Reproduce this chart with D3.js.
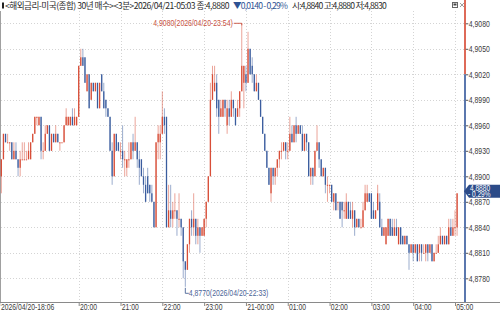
<!DOCTYPE html>
<html><head><meta charset="utf-8">
<script src="https://cdn.jsdelivr.net/npm/d3@7/dist/d3.min.js"></script>
<style>html,body{margin:0;padding:0;background:#fff;overflow:hidden}</style>
</head><body><svg id="c" width="500" height="314"></svg>
<script>
// ---- data (3-minute bars, 2026/04/20 18:06 -> 2026/04/21 05:03) ----
const startTime = "2026-04-20T18:06:00";
const barMinutes = 3;
const opens = [
4.894,4.890,4.892,4.895,4.894,4.894,4.894,4.892,4.893,4.892,
4.891,4.892,4.892,4.892,4.892,4.892,4.894,4.895,4.897,4.896,
4.897,4.893,4.893,4.895,4.896,4.893,4.895,4.894,4.895,4.894,
4.894,4.894,4.896,4.896,4.896,4.897,4.896,4.896,4.897,4.903,
4.904,4.904,4.900,4.902,4.899,4.901,4.900,4.901,4.898,4.902,
4.900,4.899,4.898,4.897,4.893,4.890,4.895,4.894,4.893,4.893,
4.892,4.891,4.892,4.892,4.894,4.893,4.894,4.892,4.892,4.890,
4.889,4.890,4.889,4.888,4.887,4.884,4.894,4.894,4.895,4.897,
4.897,4.884,4.886,4.885,4.886,4.886,4.885,4.885,4.884,4.880,
4.879,4.882,4.885,4.884,4.885,4.883,4.884,4.883,4.883,4.885,
4.887,4.890,4.899,4.900,4.901,4.899,4.897,4.897,4.899,4.896,
4.898,4.897,4.899,4.898,4.897,4.898,4.900,4.901,4.902,4.901,
4.905,4.903,4.902,4.900,4.901,4.899,4.897,4.895,4.893,4.891,
4.888,4.891,4.890,4.891,4.892,4.893,4.893,4.894,4.893,4.893,
4.895,4.894,4.896,4.895,4.896,4.895,4.893,4.895,4.894,4.890,
4.891,4.890,4.893,4.894,4.892,4.890,4.891,4.889,4.889,4.889,
4.887,4.888,4.887,4.887,4.887,4.886,4.885,4.887,4.886,4.885,
4.886,4.884,4.885,4.884,4.884,4.886,4.887,4.888,4.888,4.886,
4.885,4.886,4.887,4.884,4.883,4.882,4.883,4.885,4.884,4.883,
4.884,4.882,4.884,4.883,4.882,4.883,4.882,4.881,4.882,4.881,
4.882,4.881,4.882,4.881,4.881,4.882,4.881,4.882,4.880,4.881,
4.881,4.882,4.883,4.882,4.883,4.882,4.884,4.883,4.884,4.884];
const highs = [
4.894,4.892,4.895,4.895,4.895,4.894,4.894,4.894,4.894,4.892,
4.893,4.894,4.894,4.893,4.894,4.894,4.895,4.897,4.897,4.897,
4.897,4.894,4.896,4.896,4.896,4.895,4.895,4.896,4.895,4.894,
4.894,4.896,4.898,4.897,4.897,4.898,4.898,4.897,4.903,4.905,
4.905,4.904,4.902,4.902,4.901,4.901,4.901,4.901,4.901,4.902,
4.901,4.899,4.898,4.897,4.894,4.895,4.895,4.894,4.894,4.896,
4.893,4.892,4.894,4.894,4.895,4.897,4.894,4.893,4.892,4.891,
4.890,4.891,4.889,4.889,4.887,4.894,4.896,4.896,4.900,4.898,
4.897,4.889,4.889,4.887,4.888,4.886,4.888,4.885,4.884,4.880,
4.882,4.885,4.886,4.888,4.885,4.885,4.884,4.884,4.885,4.887,
4.890,4.901,4.903,4.903,4.902,4.899,4.899,4.899,4.899,4.899,
4.899,4.900,4.899,4.898,4.899,4.900,4.908,4.903,4.903,4.907,
4.905,4.904,4.902,4.902,4.901,4.899,4.897,4.895,4.893,4.891,
4.891,4.891,4.891,4.892,4.893,4.894,4.894,4.894,4.894,4.897,
4.896,4.896,4.897,4.896,4.896,4.896,4.895,4.895,4.894,4.891,
4.891,4.893,4.896,4.894,4.892,4.891,4.891,4.890,4.889,4.889,
4.888,4.888,4.887,4.887,4.887,4.887,4.888,4.887,4.887,4.887,
4.886,4.885,4.885,4.885,4.887,4.889,4.889,4.888,4.888,4.887,
4.886,4.889,4.888,4.885,4.884,4.884,4.885,4.885,4.885,4.885,
4.885,4.884,4.884,4.883,4.883,4.883,4.882,4.882,4.882,4.882,
4.882,4.882,4.882,4.882,4.882,4.882,4.882,4.882,4.881,4.882,
4.883,4.884,4.883,4.883,4.883,4.885,4.885,4.885,4.886,4.888];
const lows = [
4.892,4.888,4.892,4.894,4.894,4.893,4.892,4.892,4.892,4.890,
4.890,4.892,4.892,4.892,4.892,4.892,4.894,4.895,4.896,4.896,
4.892,4.892,4.893,4.895,4.893,4.893,4.894,4.894,4.894,4.893,
4.894,4.894,4.896,4.896,4.896,4.896,4.896,4.896,4.897,4.903,
4.903,4.901,4.900,4.898,4.899,4.900,4.900,4.898,4.898,4.900,
4.898,4.897,4.897,4.893,4.889,4.890,4.893,4.893,4.892,4.891,
4.890,4.890,4.891,4.892,4.892,4.893,4.891,4.889,4.890,4.888,
4.887,4.888,4.887,4.887,4.884,4.884,4.892,4.892,4.895,4.895,
4.884,4.884,4.884,4.884,4.885,4.883,4.884,4.883,4.878,4.877,
4.879,4.881,4.883,4.883,4.882,4.882,4.881,4.883,4.883,4.884,
4.887,4.890,4.899,4.900,4.897,4.895,4.897,4.897,4.897,4.895,
4.896,4.897,4.897,4.896,4.897,4.897,4.900,4.898,4.900,4.901,
4.902,4.901,4.900,4.900,4.899,4.897,4.895,4.893,4.891,4.889,
4.887,4.889,4.889,4.890,4.891,4.892,4.893,4.892,4.892,4.893,
4.894,4.894,4.894,4.895,4.895,4.893,4.893,4.893,4.890,4.889,
4.889,4.890,4.893,4.891,4.890,4.890,4.888,4.887,4.888,4.887,
4.886,4.886,4.886,4.885,4.884,4.885,4.885,4.885,4.885,4.884,
4.883,4.884,4.884,4.884,4.884,4.886,4.887,4.887,4.885,4.885,
4.885,4.886,4.884,4.883,4.883,4.882,4.883,4.883,4.883,4.883,
4.883,4.882,4.882,4.882,4.882,4.882,4.879,4.881,4.880,4.881,
4.880,4.880,4.880,4.881,4.880,4.880,4.881,4.880,4.880,4.881,
4.881,4.882,4.882,4.882,4.882,4.882,4.883,4.883,4.883,4.883];
const closes = [
4.892,4.892,4.895,4.894,4.894,4.894,4.892,4.893,4.892,4.891,
4.892,4.892,4.892,4.892,4.893,4.894,4.895,4.897,4.897,4.897,
4.893,4.893,4.895,4.896,4.893,4.895,4.894,4.895,4.894,4.894,
4.894,4.896,4.897,4.897,4.897,4.896,4.897,4.897,4.903,4.904,
4.903,4.901,4.902,4.898,4.901,4.900,4.901,4.898,4.901,4.900,
4.898,4.898,4.897,4.893,4.890,4.895,4.893,4.893,4.893,4.892,
4.892,4.892,4.892,4.894,4.893,4.894,4.892,4.891,4.890,4.889,
4.887,4.888,4.888,4.887,4.884,4.894,4.895,4.895,4.897,4.896,
4.884,4.886,4.885,4.886,4.886,4.885,4.885,4.884,4.880,4.879,
4.882,4.885,4.884,4.885,4.883,4.884,4.883,4.884,4.885,4.887,
4.890,4.899,4.902,4.901,4.898,4.897,4.898,4.899,4.898,4.898,
4.897,4.899,4.898,4.896,4.898,4.900,4.903,4.903,4.901,4.905,
4.902,4.902,4.900,4.901,4.899,4.897,4.895,4.893,4.891,4.889,
4.891,4.890,4.891,4.892,4.893,4.893,4.894,4.893,4.893,4.895,
4.894,4.896,4.895,4.896,4.895,4.893,4.895,4.894,4.890,4.891,
4.890,4.893,4.894,4.892,4.890,4.891,4.889,4.889,4.889,4.887,
4.888,4.886,4.887,4.885,4.886,4.886,4.887,4.885,4.885,4.886,
4.884,4.885,4.884,4.884,4.886,4.888,4.888,4.887,4.885,4.885,
4.886,4.888,4.884,4.883,4.884,4.884,4.885,4.883,4.883,4.884,
4.883,4.884,4.882,4.882,4.883,4.882,4.881,4.882,4.881,4.882,
4.880,4.882,4.881,4.881,4.882,4.881,4.882,4.880,4.881,4.881,
4.882,4.883,4.882,4.883,4.882,4.884,4.883,4.884,4.884,4.888];
const prevClose = 4.902;
const yTicks = [4.908,4.905,4.902,4.899,4.896,4.893,4.890,4.887,4.884,4.881,4.878];
const xTickTimes = ["2026-04-20T18:06:00","2026-04-20T20:00:00","2026-04-20T21:00:00","2026-04-20T22:00:00",
  "2026-04-20T23:00:00","2026-04-21T00:00:00","2026-04-21T01:00:00","2026-04-21T02:00:00",
  "2026-04-21T03:00:00","2026-04-21T04:00:00","2026-04-21T05:00:00"];
const xTickLabels = ["2026/04/20-18:06","20:00","21:00","22:00","23:00","21-00:00","01:00","02:00","03:00","04:00","05:00"];
const headerMain = "<해외금리-미국(종합) 30년 매수><3분>2026/04/21-05:03 종:4,8880";
const headerChange = "▼0,0140 - 0,29%";
const headerOHL = "시:4,8840 고:4,8880 저:4,8830";
const highNote = "4,9080(2026/04/20-23:54)";
const lowNote = "4,8770(2026/04/20-22:33)";
const tagPrice = "4,8880";
const tagPct = "- 0,29%";

// ---- drawing ----
const RED = "#d6452f", BLUE = "#32569a", GRID = "#d4d4d4";
const svg = d3.select("#c");
svg.append("rect").attr("width",500).attr("height",314).attr("fill","#fff");
const plotT = 11, plotB = 302, axisX = 465;
const parse = d3.isoParse;
const t0 = parse(startTime);
const times = opens.map((_, i) => d3.timeMinute.offset(t0, i * barMinutes));
const x = d3.scaleTime()
  .domain([parse("2026-04-20T20:00:00"), parse("2026-04-21T05:00:00")])
  .range([78.7, 455]);
const y = d3.scaleLinear().domain([4.878, 4.908]).range([278.3, 23.3]);
const fmt = v => d3.format(".4f")(v).replace(".", ",");
const FONT = "'Liberation Sans', Arial, sans-serif";

function squeeze(sel, k) {
  sel.each(function(){ const w = this.getComputedTextLength(); d3.select(this).attr("textLength", w * k).attr("lengthAdjust","spacingAndGlyphs"); });
}
// fit a text into a target width by tightening letter spacing (keeps real bbox)
function fitWidth(sel, target) {
  sel.each(function(){
    const w = this.getComputedTextLength(), n = this.textContent.length;
    d3.select(this).attr("letter-spacing", ((target - w) / n).toFixed(3));
  });
}

// grid
svg.append("g").selectAll("line").data(yTicks).join("line")
  .attr("x1", 1).attr("x2", axisX).attr("y1", d => Math.round(y(d)) + 0.5).attr("y2", d => Math.round(y(d)) + 0.5)
  .attr("stroke", GRID).attr("stroke-dasharray", "1,2");
svg.append("g").selectAll("line").data(xTickTimes.slice(1)).join("line")
  .attr("x1", d => Math.round(x(parse(d))) + 0.5).attr("x2", d => Math.round(x(parse(d))) + 0.5)
  .attr("y1", plotT).attr("y2", plotB)
  .attr("stroke", GRID).attr("stroke-dasharray", "1,2");

// left frame
svg.append("line").attr("x1",0.5).attr("x2",0.5).attr("y1",plotT).attr("y2",plotB).attr("stroke","#a0a0a0");

// candles
const bars = svg.append("g");
const colorOf = i => closes[i] > opens[i] ? RED : closes[i] < opens[i] ? BLUE : (i > 0 && closes[i] < closes[i-1] ? BLUE : RED);
bars.selectAll("line").data(opens).join("line")
  .attr("x1", (d,i) => x(times[i])).attr("x2", (d,i) => x(times[i]))
  .attr("y1", (d,i) => y(highs[i])).attr("y2", (d,i) => y(lows[i]))
  .attr("stroke", (d,i) => colorOf(i)).attr("stroke-width", 0.9).attr("stroke-opacity", 0.55);
bars.selectAll("rect").data(opens).join("rect")
  .attr("x", (d,i) => x(times[i]) - 0.65).attr("width", 1.3)
  .attr("y", (d,i) => y(Math.max(opens[i], closes[i])))
  .attr("height", (d,i) => Math.max(1, Math.abs(y(opens[i]) - y(closes[i]))))
  .attr("fill", (d,i) => colorOf(i)).attr("fill-opacity", 0.92);

// x axis
svg.append("line").attr("x1",0).attr("x2",500).attr("y1",plotB+0.5).attr("y2",plotB+0.5).attr("stroke","#8a8a8a");
const xAxis = d3.axisBottom(x).tickValues(xTickTimes.map(parse)).tickSize(4).tickPadding(0)
  .tickFormat((d,i) => xTickLabels[i]);
const gx = svg.append("g").attr("transform", `translate(0,${plotB})`).call(xAxis);
gx.select(".domain").remove();
gx.selectAll(".tick line").attr("stroke","#8a8a8a");
gx.selectAll(".tick text").attr("text-anchor","start").attr("dx", 0.8).attr("y", 1.5).attr("dy","0.71em")
  .attr("font-family", FONT).attr("font-size", 8.6).attr("fill", "#3a3a3a").call(squeeze, 0.79);
gx.selectAll(".tick").filter((d,i) => i === 0).select("text").attr("dx", 1.2);

// right axis line (red above previous close, blue below)
svg.append("line").attr("x1",axisX).attr("x2",axisX).attr("y1",0).attr("y2",y(prevClose)).attr("stroke",RED).attr("stroke-width",1.6);
svg.append("line").attr("x1",axisX).attr("x2",axisX).attr("y1",y(prevClose)).attr("y2",plotB).attr("stroke",BLUE).attr("stroke-width",1.6);
const yAxis = d3.axisRight(y).tickValues(yTicks).tickSize(2.5).tickPadding(0.5).tickFormat(fmt);
const gy = svg.append("g").attr("transform", `translate(${axisX+0.8},0)`).call(yAxis);
gy.select(".domain").remove();
gy.selectAll(".tick line").attr("stroke","#555");
gy.selectAll(".tick text").attr("font-family", FONT).attr("font-size", 8.6).attr("fill","#3a3a3a").call(squeeze, 0.8);

// last price tag (covers the neighbouring tick label, as in the original)
const ty = y(closes[closes.length-1]) - 2;
svg.append("path").attr("d", `M${axisX-1},${ty} L${axisX+4},${ty-6.5} L500,${ty-6.5} L500,${ty+6.5} L${axisX+4},${ty+6.5} Z`).attr("fill", "#2c4b88");
svg.append("text").attr("x", 470).attr("y", ty - 0.6).text(tagPrice)
  .attr("font-family", FONT).attr("font-size", 8.2).attr("fill","#fff").call(squeeze, 0.8);
svg.append("text").attr("x", 468).attr("y", ty + 5.9).text(tagPct)
  .attr("font-family", FONT).attr("font-size", 8.2).attr("fill","#fff").call(squeeze, 0.8);

// high / low annotations
const iHi = d3.maxIndex(highs), iLo = d3.minIndex(lows);
const xHi = x(times[iHi]), yHi = y(highs[iHi]);
svg.append("path").attr("d", `M${xHi-8},${yHi} L${xHi},${yHi} L${xHi},${yHi+2}`).attr("fill","none").attr("stroke","#c8503e").attr("stroke-width",0.9);
svg.append("text").attr("x", xHi - 9).attr("y", yHi + 3).attr("text-anchor","end").text(highNote)
  .attr("font-family", FONT).attr("font-size", 8.6).attr("fill","#c8503e").call(squeeze, 0.8);
const xLo = x(times[iLo]), yLo = y(lows[iLo]);
svg.append("path").attr("d", `M${xLo},${yLo+1} L${xLo},${yLo+6.5} L${xLo+3.5},${yLo+6.5}`).attr("fill","none").attr("stroke","#4a6496").attr("stroke-width",0.9);
svg.append("text").attr("x", xLo + 3.5).attr("y", yLo + 9.5).text(lowNote)
  .attr("font-family", FONT).attr("font-size", 8.6).attr("fill","#4a6496").call(squeeze, 0.8);

// header
svg.append("rect").attr("x",2).attr("y",2.5).attr("width",2).attr("height",6).attr("fill","#222");
const HF = "'Noto Sans CJK KR', 'Noto Sans', sans-serif";
svg.append("text").attr("x",5).attr("y",9).text(headerMain).attr("font-family",HF).attr("font-size",8.6).attr("fill","#2a2a2a").call(fitWidth, 224);
svg.append("text").attr("x",233).attr("y",9).text(headerChange).attr("font-family",HF).attr("font-size",8.6).attr("fill","#2e5393").call(fitWidth, 54);
svg.append("text").attr("x",292).attr("y",9).text(headerOHL).attr("font-family",HF).attr("font-size",8.6).attr("fill","#2a2a2a").call(fitWidth, 94);
// window icons
svg.append("rect").attr("x",452.5).attr("y",2.5).attr("width",5).attr("height",5).attr("fill","none").attr("stroke","#666");
svg.append("rect").attr("x",453.5).attr("y",3.5).attr("width",3).attr("height",2).attr("fill","#444");
svg.append("path").attr("d","M460,3 L464,7 M464,3 L460,7").attr("stroke","#888").attr("stroke-width",0.8);
</script></body></html>
